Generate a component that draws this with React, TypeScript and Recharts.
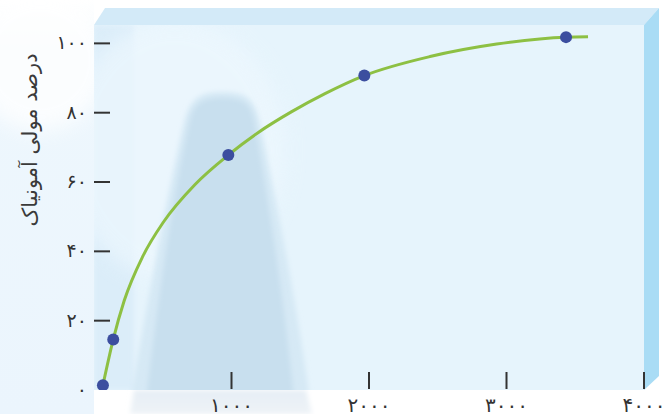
import React from "react";
import { ComposedChart, Line, Scatter, XAxis, YAxis } from "recharts";

// measured points (pressure, mole % ammonia)
const pressure = [65, 140, 977, 1966, 3433];
const molePct = [1.4, 14.6, 67.8, 90.7, 101.8];

// curve
const curvePressure = [65, 140, 220, 354, 504, 735, 977, 1195, 1438, 1680, 1966, 2444, 2929, 3433, 3593];
const curvePct = [1.4, 14.6, 25.8, 38.5, 48.4, 59.3, 67.8, 74.3, 80.3, 85.5, 90.7, 96.2, 99.8, 101.8, 101.9];

const yTicks = [0, 20, 40, 60, 80, 100];
const yTickLabels = ["۰", "۲۰", "۴۰", "۶۰", "۸۰", "۱۰۰"];
const xTicks = [1000, 2000, 3000, 4000];
const xTickLabels = ["۱۰۰۰", "۲۰۰۰", "۳۰۰۰", "۴۰۰۰"];
const yTitle = "درصد مولی آمونیاک";

const pointData = pressure.map((x, i) => ({ x, y: molePct[i] }));
const curveData = curvePressure.map((x, i) => ({ x, y: curvePct[i] }));

const W = 672;
const H = 414;
const PL = 94; // plot left
const PR = 644; // plot right
const PT = 25; // plot top
const PB = 390; // plot bottom
const DEPTH_X = 15;
const DEPTH_Y = 17;

const YTick = (props: any) => {
  const { y, payload } = props;
  const i = yTicks.indexOf(payload.value);
  return (
    <g>
      {payload.value !== 0 && (
        <line x1={PL} x2={PL + 16} y1={y} y2={y} stroke="#333" strokeWidth={2} />
      )}
      <text x={PL - 7} y={y} dy={6} textAnchor="end" fontSize={19} fill="#333">
        {yTickLabels[i]}
      </text>
    </g>
  );
};

const XTick = (props: any) => {
  const { x, payload } = props;
  const i = xTicks.indexOf(payload.value);
  return (
    <g>
      <line x1={x} x2={x} y1={PB - 18} y2={PB - 1} stroke="#333" strokeWidth={2} />
      <text x={x} y={PB + 22} textAnchor="middle" fontSize={20} fill="#333">
        {xTickLabels[i]}
      </text>
    </g>
  );
};

const Dot = (props: any) => (
  <circle cx={props.cx} cy={props.cy} r={6} fill="#3c4e9f" />
);

function Backdrop() {
  return (
    <svg width={W} height={H} style={{ position: "absolute", left: 0, top: 0 }}>
      <defs>
        <linearGradient id="leftFade" x1="0" y1="0" x2="0" y2="1">
          <stop offset="0%" stopColor="#ffffff" />
          <stop offset="12%" stopColor="#eef7fd" />
          <stop offset="100%" stopColor="#ebf5fd" />
        </linearGradient>
        <linearGradient id="below" x1="0" y1="0" x2="0" y2="1">
          <stop offset="0%" stopColor="#e6eef5" />
          <stop offset="100%" stopColor="#eef3f7" />
        </linearGradient>
        <filter id="soft" x="-30%" y="-30%" width="160%" height="160%">
          <feGaussianBlur stdDeviation="2.5" />
        </filter>
        <filter id="softer" x="-30%" y="-30%" width="160%" height="160%">
          <feGaussianBlur stdDeviation="10" />
        </filter>
        <clipPath id="front">
          <rect x={PL} y={PT} width={PR - PL} height={PB - PT} />
        </clipPath>
      </defs>
      <rect x={0} y={0} width={W} height={H} fill="#ffffff" />
      <rect x={0} y={0} width={PL} height={H} fill="url(#leftFade)" />
      <circle cx={40} cy={60} r={70} fill="#ffffff" opacity={0.8} filter="url(#softer)" />
      {/* column below the box */}
      <path d={`M134,${PB} L306,${PB} L312,${H} L130,${H} Z`} fill="url(#below)" filter="url(#soft)" />
      {/* box faces */}
      <polygon
        points={`${PL},${PT} ${PL + DEPTH_X - 4},${PT - DEPTH_Y} ${PR + DEPTH_X},${PT - DEPTH_Y} ${PR},${PT}`}
        fill="#d3eaf8"
      />
      <polygon
        points={`${PR},${PT} ${PR + DEPTH_X},${PT - DEPTH_Y} ${PR + DEPTH_X},${PB - 14} ${PR},${PB}`}
        fill="#a9dcf5"
      />
      <rect x={PL} y={PT} width={PR - PL} height={PB - PT} fill="#e6f4fc" />
      <g clipPath="url(#front)">
        <rect x={PL} y={PT} width={40} height={PB - PT} fill="#dbedf9" filter="url(#soft)" />
        <ellipse cx={175} cy={150} rx={110} ry={130} fill="#eef8fe" opacity={0.7} filter="url(#softer)" />
        <path
          d="M130,400 C148,300 166,200 184,122 C190,98 200,92 222,92 C246,92 254,98 260,122 C278,210 296,300 310,400 Z"
          fill="#d6e9f5"
          filter="url(#soft)"
        />
        <path
          d="M146,400 C158,300 172,200 190,120 C194,104 202,98 222,98 C244,98 250,104 254,120 C270,210 284,300 294,400 Z"
          fill="#c8dfee"
          filter="url(#soft)"
        />
      </g>
    </svg>
  );
}

export default function App() {
  return (
    <div
      style={{
        position: "absolute",
        left: 0,
        top: 0,
        width: W,
        height: H,
        overflow: "hidden",
        fontFamily: "'DejaVu Sans', sans-serif",
      }}
    >
      <Backdrop />
      <div style={{ position: "absolute", left: 0, top: 0 }}>
        <ComposedChart
          width={W}
          height={H}
          margin={{ top: PT, right: W - PR, bottom: 0, left: 0 }}
        >
          <XAxis
            type="number"
            dataKey="x"
            domain={[0, 4000]}
            ticks={xTicks}
            interval={0}
            axisLine={false}
            tickLine={false}
            height={H - PB}
            tick={<XTick />}
            allowDataOverflow
          />
          <YAxis
            type="number"
            dataKey="y"
            domain={[0, 105.3]}
            ticks={yTicks}
            interval={0}
            axisLine={false}
            tickLine={false}
            width={PL}
            tick={<YTick />}
            allowDataOverflow
            label={{
              content: () => (
                <text
                  x={30}
                  y={140}
                  transform="rotate(-90 30 140)"
                  textAnchor="middle"
                  dominantBaseline="central"
                  fontSize={21}
                  fill="#3a3a3a"
                >
                  {yTitle}
                </text>
              ),
            }}
          />
          <Line
            data={curveData}
            dataKey="y"
            type="monotone"
            stroke="#8dc043"
            strokeWidth={3}
            dot={false}
            activeDot={false}
            isAnimationActive={false}
          />
          <Scatter
            data={pointData}
            dataKey="y"
            shape={<Dot />}
            isAnimationActive={false}
          />
        </ComposedChart>
      </div>
    </div>
  );
}
